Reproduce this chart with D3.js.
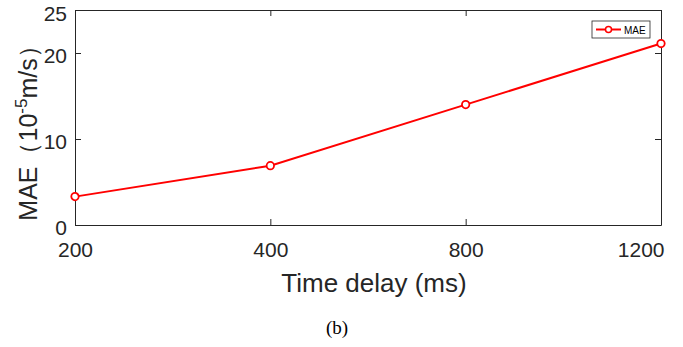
<!DOCTYPE html>
<html>
<head>
<meta charset="utf-8">
<script src="https://cdnjs.cloudflare.com/ajax/libs/d3/7.8.5/d3.min.js"></script>
<style>
  body { margin: 0; background: #fff; }
  svg { display: block; }
</style>
</head>
<body>
<script>
// data
var delays = ["200", "400", "800", "1200"];
var maeValues = [3.3, 6.9, 14.0, 21.1];
var yTicks = [0, 10, 20, 25];

var margin = {top: 10, right: 22, bottom: 122, left: 75},
    width = 683 - margin.left - margin.right,
    height = 347 - margin.top - margin.bottom;

var axisColor = "#262626";
var font = "Arial, 'Liberation Sans', Helvetica, sans-serif";

var xScale = d3.scalePoint()
    .domain(delays)
    .range([0, width]);

var yScale = d3.scaleLinear()
    .domain([0, 25])
    .range([height, 0]);

var svg = d3.select("body").append("svg")
    .attr("width", 683)
    .attr("height", 347);

var g = svg.append("g")
    .attr("transform", "translate(" + margin.left + "," + margin.top + ")");

// axes, ticks pointing inward like matlab
var xAxis = d3.axisBottom(xScale).tickSizeInner(-6).tickSizeOuter(0).tickPadding(17);
var yAxis = d3.axisLeft(yScale).tickValues(yTicks).tickSizeInner(-6).tickSizeOuter(0).tickPadding(8);

var gx = g.append("g")
    .attr("transform", "translate(0," + height + ")")
    .call(xAxis);

var gy = g.append("g")
    .call(yAxis);

// mirrored ticks on top and right
var gxt = g.append("g")
    .call(d3.axisTop(xScale).tickSizeInner(-6).tickSizeOuter(0).tickFormat(""));
var gyr = g.append("g")
    .attr("transform", "translate(" + width + ",0)")
    .call(d3.axisRight(yScale).tickValues(yTicks).tickSizeInner(-6).tickSizeOuter(0).tickFormat(""));

[gx, gy, gxt, gyr].forEach(function(a) {
  a.select(".domain").attr("stroke", axisColor).attr("stroke-width", 1);
  a.selectAll(".tick line").attr("stroke", axisColor).attr("stroke-width", 1);
  a.selectAll(".tick text")
    .attr("fill", axisColor)
    .style("font-family", font)
    .style("font-size", "21px");
});
gx.selectAll(".tick text").attr("dy", "0.71em");
// last label sits flush with the right edge
gx.selectAll(".tick text").filter(function(d) { return d === "1200"; })
    .attr("text-anchor", "end").attr("x", 3);
gy.selectAll(".tick text").attr("dy", function(d) { return d === 25 ? "0.5em" : "0.45em"; });

// axis titles
g.append("text")
    .attr("x", width / 2 + 6)
    .attr("y", height + 67)
    .attr("text-anchor", "middle")
    .attr("fill", axisColor)
    .style("font-family", font)
    .style("font-size", "26px")
    .text("Time delay (ms)");

var ylab = svg.append("text")
    .attr("transform", "translate(37," + 127 + ") rotate(-90)")
    .attr("text-anchor", "middle")
    .attr("fill", axisColor)
    .style("font-family", font)
    .style("font-size", "25px");
ylab.append("tspan").text("MAE（10");
ylab.append("tspan").attr("dy", -10).style("font-size", "17px").text("-5");
ylab.append("tspan").attr("dy", 10).text("m/s）");

// line and markers
var line = d3.line()
    .x(function(d, i) { return xScale(delays[i]); })
    .y(function(d) { return yScale(d); });

g.append("path")
    .datum(maeValues)
    .attr("fill", "none")
    .attr("stroke", "#ff0000")
    .attr("stroke-width", 2)
    .attr("d", line);

g.selectAll(".dot")
    .data(maeValues)
    .enter().append("circle")
    .attr("class", "dot")
    .attr("cx", function(d, i) { return xScale(delays[i]); })
    .attr("cy", function(d) { return yScale(d); })
    .attr("r", 3.7)
    .attr("fill", "#fff")
    .attr("stroke", "#ff0000")
    .attr("stroke-width", 1.8);

// legend
var leg = svg.append("g").attr("transform", "translate(592,21)");
leg.append("rect")
    .attr("width", 58).attr("height", 17)
    .attr("fill", "#fff")
    .attr("stroke", axisColor).attr("stroke-width", 0.8);
leg.append("line")
    .attr("x1", 4).attr("x2", 29).attr("y1", 8.5).attr("y2", 8.5)
    .attr("stroke", "#ff0000").attr("stroke-width", 2);
leg.append("circle")
    .attr("cx", 16.5).attr("cy", 8.5).attr("r", 3)
    .attr("fill", "#fff").attr("stroke", "#ff0000").attr("stroke-width", 1.5);
leg.append("text")
    .attr("x", 32).attr("y", 12.5)
    .attr("fill", "#000")
    .style("font-family", font)
    .style("font-size", "10px")
    .text("MAE");

// caption
svg.append("text")
    .attr("x", 337)
    .attr("y", 334)
    .attr("text-anchor", "middle")
    .attr("fill", "#000")
    .style("font-family", "'Liberation Serif', 'Times New Roman', serif")
    .style("font-size", "19px")
    .text("(b)");
</script>
</body>
</html>
